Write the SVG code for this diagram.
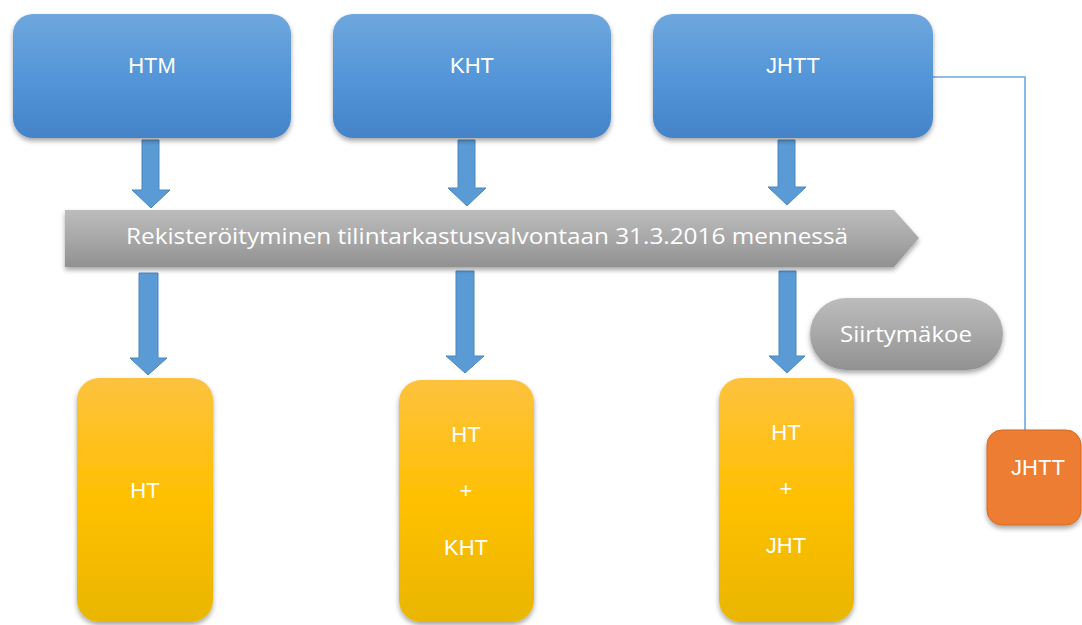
<svg xmlns="http://www.w3.org/2000/svg" width="1082" height="625" viewBox="0 0 1082 625">
<defs>
<linearGradient id="gBlue" x1="0" y1="0" x2="0" y2="1">
<stop offset="0" stop-color="#6fa7dd"/>
<stop offset="0.5" stop-color="#5496d8"/>
<stop offset="1" stop-color="#4583c9"/>
</linearGradient>
<linearGradient id="gGray" x1="0" y1="0" x2="0" y2="1">
<stop offset="0" stop-color="#bcbcbc"/>
<stop offset="0.5" stop-color="#a8a8a8"/>
<stop offset="1" stop-color="#919191"/>
</linearGradient>
<linearGradient id="gYellow" x1="0" y1="0" x2="0" y2="1">
<stop offset="0" stop-color="#fdc23f"/>
<stop offset="0.5" stop-color="#ffc000"/>
<stop offset="1" stop-color="#e9b600"/>
</linearGradient>
<filter id="sh" x="-10%" y="-10%" width="130%" height="130%">
<feDropShadow dx="0" dy="3" stdDeviation="2.5" flood-color="#000" flood-opacity="0.35"/>
</filter>
</defs>
<style>
.blue{fill:url(#gBlue);filter:url(#sh)}
.yel{fill:url(#gYellow);filter:url(#sh)}
.gray{fill:url(#gGray);filter:url(#sh)}
.arr{fill:#5b9bd5;stroke:#4a86c0;stroke-width:1}
.t{font-family:"Liberation Sans",Arial,sans-serif;font-size:22px;fill:#ffffff;text-anchor:middle}
.tb{font-family:"Open Sans","Liberation Sans",sans-serif;fill:#ffffff}
</style>
<rect width="1082" height="625" fill="#ffffff"/>

<g id="connectors">
<path d="M933,77 H1025 V430" fill="none" stroke="#6fa8e0" stroke-width="1.6"/>
<path class="arr" d="M142,140 H159 V190 H170 L151,208 L132,190 H142 Z"/>
<path class="arr" d="M458,140 H475 V188 H486 L467,206 L448,188 H458 Z"/>
<path class="arr" d="M778,140 H795 V187 H806 L787,205 L768,187 H778 Z"/>
<path class="arr" d="M139,273 H158 V358 H167 L148,375 L130,358 H139 Z"/>
<path class="arr" d="M456,271 H474 V356 H484 L465,373 L446,356 H456 Z"/>
<path class="arr" d="M779,271 H796 V356 H805 L787,373 L769,356 H779 Z"/>
</g>

<g id="HTM">
<rect class="blue" x="13" y="14" width="278" height="124" rx="20"/>
<text class="t" x="152" y="73">HTM</text>
</g>
<g id="KHT">
<rect class="blue" x="333" y="14" width="278" height="124" rx="20"/>
<text class="t" x="472" y="73">KHT</text>
</g>
<g id="JHTT">
<rect class="blue" x="653" y="14" width="280" height="124" rx="20"/>
<text class="t" x="793" y="73">JHTT</text>
</g>

<g id="banner">
<path class="gray" d="M65,210 H894 L919,238 L894,267 H65 Z"/>
<text class="tb" x="126" y="244" font-size="22" textLength="722" lengthAdjust="spacingAndGlyphs">Rekisteröityminen tilintarkastusvalvontaan 31.3.2016 mennessä</text>
</g>

<g id="Siirtymakoe">
<rect class="gray" x="810" y="298" width="193" height="72" rx="36"/>
<text class="tb" x="840" y="342" font-size="22" textLength="132" lengthAdjust="spacingAndGlyphs">Siirtymäkoe</text>
</g>

<g id="HT">
<rect class="yel" x="77" y="378" width="136" height="244" rx="22"/>
<text class="t" x="145" y="498">HT</text>
</g>
<g id="HT_KHT">
<rect class="yel" x="399" y="380" width="135" height="242" rx="22"/>
<text class="t" x="466" y="442">HT</text>
<text class="t" x="466" y="498" font-size="25">+</text>
<text class="t" x="466" y="555">KHT</text>
</g>
<g id="HT_JHT">
<rect class="yel" x="719" y="378" width="135" height="244" rx="22"/>
<text class="t" x="786" y="440">HT</text>
<text class="t" x="786" y="496" font-size="25">+</text>
<text class="t" x="786" y="553">JHT</text>
</g>

<g id="JHTT_orange">
<rect x="987" y="430" width="94" height="95" rx="15" fill="#ed7d31" stroke="#d46a22" stroke-width="1" filter="url(#sh)"/>
<text class="t" x="1038" y="475" font-size="21">JHTT</text>
</g>
</svg>
